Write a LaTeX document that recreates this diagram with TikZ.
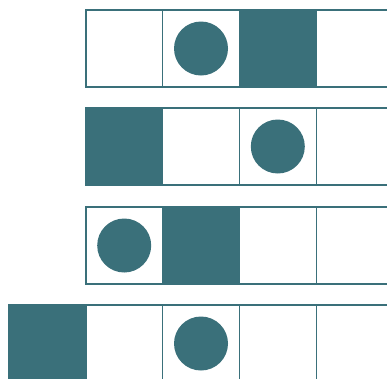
\documentclass[tikz,border=0pt]{standalone}
\usepackage{xcolor}
\usepackage{tikz}
\usetikzlibrary{positioning, calc}
\definecolor{myteal}{RGB}{58,112,122}
\tikzset{
  cell/.style={rectangle, draw=myteal, fill=white,
    minimum size=1.536cm, inner sep=0pt, line width=0.8pt},
  fullcell/.style={cell, fill=myteal},
  dot/.style={circle, fill=myteal, draw=none,
    minimum size=1.08cm, inner sep=0pt}
}
\begin{document}
\begin{tikzpicture}
  \useasboundingbox (0,0) rectangle (7.74,-7.56);
  \clip (0,0) rectangle (7.74,-7.56);

  % Row 1
  \foreach \k/\t in {1/cell, 2/cell, 3/fullcell, 4/cell}
    \node[\t] (ra\k) at ({0.18+(\k+0.5)*1.536}, -0.97) {};
  \node[dot] (da) at (ra2) {};

  % Row 2
  \foreach \k/\t in {1/fullcell, 2/cell, 3/cell, 4/cell}
    \node[\t] (rb\k) at ({0.18+(\k+0.5)*1.536}, -2.93) {};
  \node[dot] (db) at (rb3) {};

  % Row 3
  \foreach \k/\t in {1/cell, 2/fullcell, 3/cell, 4/cell}
    \node[\t] (rc\k) at ({0.18+(\k+0.5)*1.536}, -4.91) {};
  \node[dot] (dc) at (rc1) {};

  % Row 4
  \foreach \k/\t in {0/fullcell, 1/cell, 2/cell, 3/cell, 4/cell}
    \node[\t] (rd\k) at ({0.18+(\k+0.5)*1.536}, -6.87) {};
  \node[dot] (dd) at (rd2) {};
\end{tikzpicture}
\end{document}
